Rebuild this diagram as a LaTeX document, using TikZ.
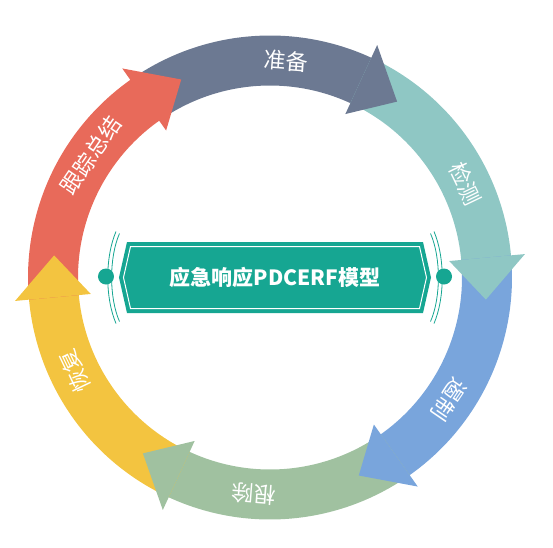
\documentclass[tikz,border=0pt]{standalone}
\usepackage{fontspec}
\setmainfont{Noto Sans CJK SC}
\definecolor{cslate}{RGB}{108,121,146}
\definecolor{cteal}{RGB}{143,199,196}
\definecolor{cblue}{RGB}{121,165,220}
\definecolor{cgreen}{RGB}{160,193,160}
\definecolor{cyellow}{RGB}{243,196,64}
\definecolor{cred}{RGB}{232,106,90}
\definecolor{cbanner}{RGB}{22,166,146}
\tikzset{
  lbl/.style={text=white,inner sep=0pt,font=\fontsize{22}{22}\selectfont},
  decoline/.style={draw=cbanner,line width=0.8pt},
}
\begin{document}
\begin{tikzpicture}[x=1pt,y=1pt]
\useasboundingbox (-270,-269.5) rectangle (283,277.5);
\def\Ro{242}\def\Ri{192}\def\Rm{217}\def\Rbo{256}\def\Rbi{180}\def\HL{11.1}
% bodies
\foreach \col/\b in {cslate/65.25,cteal/5.25,cblue/-54.75,cgreen/-114.75,cyellow/-174.75,cred/-234.75}{
  \pgfmathsetmacro{\p}{\b+60}
  \pgfmathsetmacro{\e}{\b-0.6}
  \fill[\col] (\p:\Ro) arc[start angle=\p, end angle=\e, radius=\Ro] -- (\e:\Ri) arc[start angle=\e, end angle=\p, radius=\Ri] -- cycle;
}
% heads
\foreach \col/\b in {cslate/65.25,cteal/5.25,cblue/-54.75,cgreen/-114.75,cyellow/-174.75,cred/-234.75}{
  \pgfmathsetmacro{\t}{\b-\HL}
  \fill[\col] (\b:\Rbo) -- (\t:\Rm) -- (\b:\Rbi) -- cycle;
}
% labels
\node[lbl,rotate=-4.3] (l1) at (85.7:\Rm) {准备};
\node[lbl,rotate=-64.3] (l2) at (25.7:\Rm) {检测};
\node[lbl,rotate=-124.3] (l3) at (-34.3:\Rm) {遏制};
\node[lbl,rotate=-184.3] (l4) at (-94.3:\Rm) {根除};
\node[lbl,rotate=115.7] (l5) at (-154.3:\Rm) {恢复};
\node[lbl,rotate=55.7] (l6) at (145.7:\Rm) {跟踪总结};
% banner
\begin{scope}[shift={(5,0)}]
  \fill[cbanner] (-148,35.5) -- (148,35.5) -- (156,0) -- (148,-35.5) -- (-148,-35.5) -- (-156,0) -- cycle;
  \draw[white,line width=1pt] (-144.5,31) -- (144.5,31) -- (151.5,0) -- (144.5,-31) -- (-144.5,-31) -- (-151.5,0) -- cycle;
  \foreach \s in {-1,1}{
    \draw[decoline] (\s*159,46) .. controls (\s*170,20) and (\s*170,-20) .. (\s*159,-46);
    \draw[decoline] (\s*155.5,44) .. controls (\s*166,20) and (\s*166,-20) .. (\s*155.5,-44);
  }
  \fill[cbanner] (-169,1) circle[radius=8];
  \fill[cbanner] (169,1) circle[radius=8];
  \node[text=white,inner sep=0pt,font=\bfseries\fontsize{21}{21}\selectfont] (title) at (0,0) {应急响应PDCERF模型};
\end{scope}
\end{tikzpicture}
\end{document}
